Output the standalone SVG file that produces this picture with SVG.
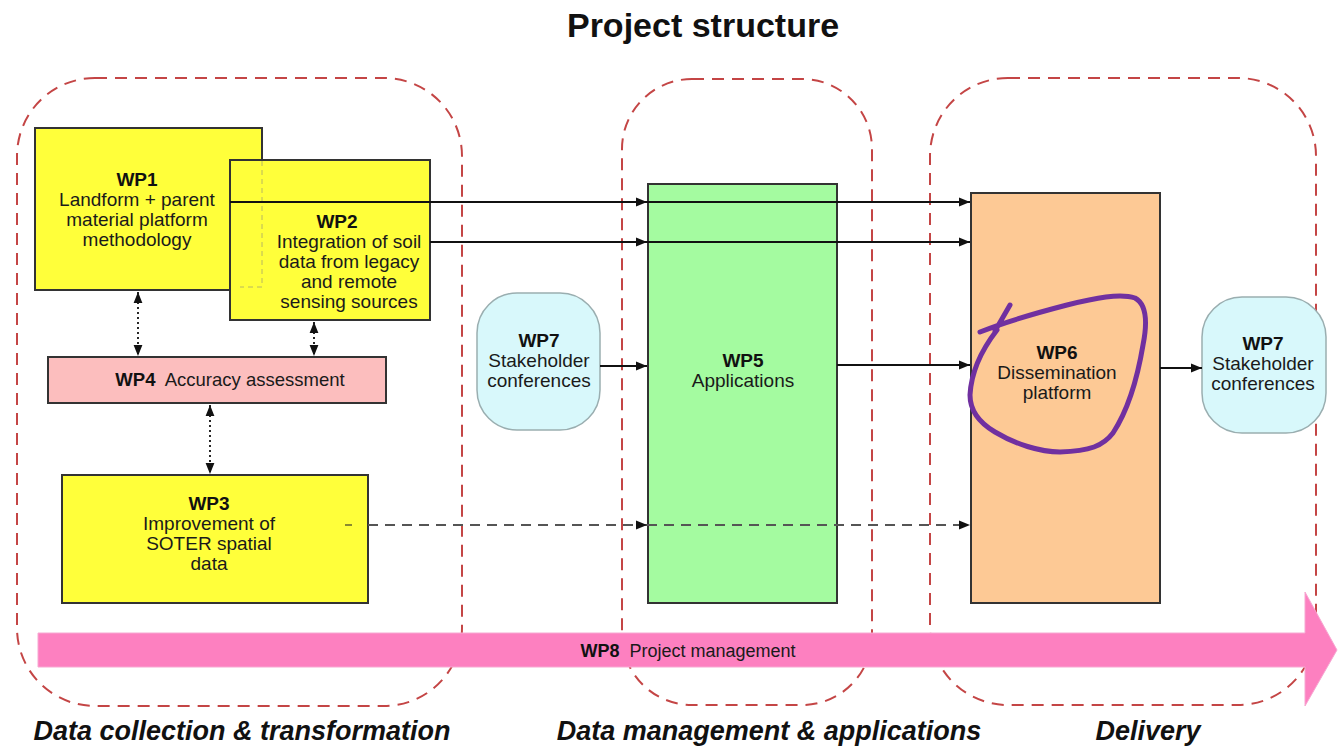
<svg xmlns="http://www.w3.org/2000/svg" width="1338" height="746" viewBox="0 0 1338 746">
<style>
text{font-family:"Liberation Sans",Arial,sans-serif;fill:#1a1a1a;}
.t{font-size:19px;text-anchor:middle;}
.b{font-weight:bold;fill:#111;}
.region{fill:none;stroke:#c44545;stroke-width:2;stroke-dasharray:12 8;}
.box{stroke:#333;stroke-width:2;}
.yellow{fill:#ffff3a;}
.cloud{fill:#d8f8fb;stroke:#9aaeb0;stroke-width:1.5;}
.solid{fill:none;stroke:#111;stroke-width:1.8;}
.dash{fill:none;stroke:#555;stroke-width:2;stroke-dasharray:10 7;}
.dot{fill:none;stroke:#111;stroke-width:1.8;stroke-dasharray:2 3;}
.label{font-size:27px;font-weight:bold;font-style:italic;text-anchor:middle;fill:#111;}
</style>
<defs>
<marker id="ah" viewBox="0 0 10 10" refX="10" refY="5" markerWidth="11" markerHeight="11" markerUnits="userSpaceOnUse" orient="auto-start-reverse">
<path d="M0,1 L10,5 L0,9 Z" fill="#111"/>
</marker>
</defs>
<rect width="1338" height="746" fill="#ffffff"/>
<text x="703" y="37" style="font-size:34px;font-weight:bold;text-anchor:middle;fill:#111">Project structure</text>

<g id="regions">
<rect class="region" x="17" y="78" width="445" height="628" rx="78" ry="78"/>
<rect class="region" x="622" y="79" width="250" height="626" rx="70" ry="70"/>
<rect class="region" x="930" y="78" width="386" height="627" rx="78" ry="78"/>
</g>

<g id="wp8">
<polygon points="38,633 1305,633 1305,592 1337,650 1305,706 1305,667 38,667" fill="#fd80c0" stroke="#f7a8d2" stroke-width="1"/>
<text x="688" y="657" style="font-size:18px;text-anchor:middle"><tspan class="b">WP8</tspan>&#160; Project management</text>
</g>

<g id="wp5">
<rect class="box" x="648" y="184" width="189" height="419" fill="#a4fba0"/>
<text class="t b" x="743" y="367">WP5</text>
<text class="t" x="743" y="387">Applications</text>
</g>

<g id="wp6">
<rect class="box" x="971" y="193" width="189" height="410" fill="#fdc995"/>
<text class="t b" x="1057" y="359">WP6</text>
<text class="t" x="1057" y="379">Dissemination</text>
<text class="t" x="1057" y="399">platform</text>
</g>

<g id="wp1">
<rect class="box yellow" x="35" y="128" width="227" height="162"/>
<text class="t b" x="137" y="186">WP1</text>
<text class="t" x="137" y="206">Landform + parent</text>
<text class="t" x="137" y="226">material platform</text>
<text class="t" x="137" y="246">methodology</text>
</g>

<g id="wp2">
<rect class="box yellow" x="230" y="160" width="200" height="160"/>
<path d="M262,161 V287 H240" fill="none" stroke="#b8b860" stroke-width="1" stroke-dasharray="5 4"/>
<text class="t b" x="337" y="228">WP2</text>
<text class="t" x="349" y="248">Integration of soil</text>
<text class="t" x="349" y="268">data from legacy</text>
<text class="t" x="349" y="288">and remote</text>
<text class="t" x="349" y="308">sensing sources</text>
</g>

<g id="wp4">
<rect class="box" x="48" y="357" width="338" height="46" fill="#fcbebe"/>
<text x="230" y="386" style="font-size:18.5px;text-anchor:middle"><tspan class="b">WP4</tspan>&#160; Accuracy assessment</text>
</g>

<g id="wp3">
<rect class="box yellow" x="62" y="475" width="306" height="128"/>
<text class="t b" x="209" y="510">WP3</text>
<text class="t" x="209" y="530">Improvement of</text>
<text class="t" x="209" y="550">SOTER spatial</text>
<text class="t" x="209" y="570">data</text>
</g>

<g id="wp7-left">
<rect class="cloud" x="477" y="293" width="123" height="137" rx="40" ry="40"/>
<text class="t b" x="539" y="347">WP7</text>
<text class="t" x="539" y="367">Stakeholder</text>
<text class="t" x="539" y="387">conferences</text>
</g>

<g id="wp7-right">
<rect class="cloud" x="1202" y="297" width="124" height="136" rx="40" ry="40"/>
<text class="t b" x="1263" y="350">WP7</text>
<text class="t" x="1263" y="370">Stakeholder</text>
<text class="t" x="1263" y="390">conferences</text>
</g>

<g id="connectors">
<path class="solid" d="M230,202 H647" marker-end="url(#ah)"/>
<path class="solid" d="M647,202 H970" marker-end="url(#ah)"/>
<path class="solid" d="M430,242 H647" marker-end="url(#ah)"/>
<path class="solid" d="M647,242 H970" marker-end="url(#ah)"/>
<path class="solid" d="M600,366 H647" marker-end="url(#ah)"/>
<path class="solid" d="M837,365 H970" marker-end="url(#ah)"/>
<path class="solid" d="M1160,368 H1202" marker-end="url(#ah)"/>
<path d="M345,525 H352" stroke="#8a8a30" stroke-width="2"/>
<path class="dash" d="M368,525 H647" marker-end="url(#ah)"/>
<path class="dash" d="M647,525 H970" marker-end="url(#ah)"/>
<path class="dot" d="M138,292 V356" marker-start="url(#ah)" marker-end="url(#ah)"/>
<path class="dot" d="M314,322 V356" marker-start="url(#ah)" marker-end="url(#ah)"/>
<path class="dot" d="M210,405 V474" marker-start="url(#ah)" marker-end="url(#ah)"/>
</g>

<g id="annotation">
<path d="M1010,305 L995,331 M980,332 C1005,322 1040,312 1067,305 C1095,298 1120,293 1135,298 C1148,305 1147,325 1143,345 C1138,375 1128,410 1113,433 C1103,446 1090,451 1060,452 C1040,452 1015,444 995,432 C978,422 970,410 970,395 C971,375 980,352 997,330" fill="none" stroke="#7030a0" stroke-width="5" stroke-linecap="round" stroke-linejoin="round"/>
</g>

<text class="label" x="242" y="740">Data collection &amp; transformation</text>
<text class="label" x="769" y="740">Data management &amp; applications</text>
<text class="label" x="1148" y="740">Delivery</text>
</svg>
